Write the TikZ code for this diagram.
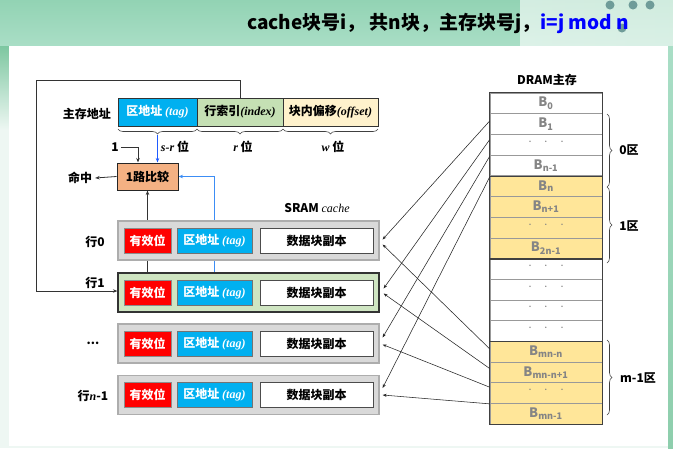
\documentclass[tikz,border=0pt]{standalone}
\usepackage{fontspec}
\setmainfont{Noto Sans CJK SC}
\newfontfamily\serifface{Liberation Serif}
\usetikzlibrary{decorations.pathreplacing,arrows.meta,calc}
\newcommand\fsz[1]{\fontsize{#1}{#1}\selectfont}
\newcommand\lat[1]{{\serifface\itshape #1}}

\definecolor{tagblue}{HTML}{00B0F0}
\definecolor{idxgreen}{HTML}{C5E0B4}
\definecolor{offyellow}{HTML}{FFF2CC}
\definecolor{cmporange}{HTML}{F4B183}
\definecolor{rowgray}{HTML}{D9D9D9}
\definecolor{rowgreen}{HTML}{CFE5C2}
\definecolor{blkyellow}{HTML}{FFE699}
\definecolor{wireblue}{HTML}{1F5BFF}
\definecolor{wireblue2}{HTML}{3C8DF5}
\definecolor{slidegreen}{HTML}{5DB989}
\definecolor{slidelight}{HTML}{A9DEC6}
\definecolor{slidepale}{HTML}{EEF7F3}
\definecolor{dotteal}{HTML}{6F9C99}

\pgfdeclarelayer{bg}
\pgfdeclarelayer{wires}
\pgfsetlayers{bg,wires,main}

\tikzset{
  lbl/.style={font=\fsz{12}\bfseries, inner sep=0pt},
  addr/.style={draw=black!80, line width=0.8pt, minimum height=28pt, inner sep=0pt, font=\fsz{12}\bfseries},
  cmpbox/.style={draw=black!85, line width=1pt, fill=cmporange, minimum width=61pt, minimum height=27pt, inner sep=0pt, font=\fsz{12}\bfseries},
  rowbox/.style={draw=black!32, fill=rowgray, line width=1.2pt, minimum width=261pt, minimum height=39pt, inner sep=0pt},
  rowsel/.style={rowbox, draw=black!80, fill=rowgreen},
  validbox/.style={fill=red, draw=black!45, line width=0.6pt, text=white, minimum width=47pt, minimum height=25pt, inner sep=0pt, font=\fsz{12}\bfseries},
  tagbox/.style={fill=tagblue, draw=black!55, line width=0.6pt, text=white, minimum width=75pt, minimum height=25pt, inner sep=0pt, font=\fsz{12}\bfseries},
  databox/.style={fill=white, draw=black!70, line width=0.8pt, minimum width=113pt, minimum height=25pt, inner sep=0pt, font=\fsz{12}\bfseries},
  cell/.style={draw=black!40, line width=0.8pt, minimum width=112pt, minimum height=20.7pt, inner sep=0pt, text=black!48, font=\fsz{13}\bfseries},
  wire/.style={draw=black!80, line width=0.8pt},
  tip/.style={-{Stealth[length=4.5pt,width=3.5pt]}},
  map/.style={draw=black!85, line width=0.55pt, -{Stealth[length=4pt,width=3pt]}},
  brc/.style={draw=black!75, line width=0.6pt, decorate, decoration={brace, amplitude=5pt}},
}
\newcommand\blkdots{{\fsz{7}\mdseries\raisebox{3pt}{·\hspace{9pt}·\hspace{9pt}·}}}

\begin{document}
\begin{tikzpicture}[x=1pt,y=-1pt]
\useasboundingbox (0,0) rectangle (673,448);

% slide background
\begin{pgfonlayer}{bg}
  \fill[slidepale] (0,0) rectangle (673,448);
  \shade[top color=slidelight!70!slidegreen, middle color=slidegreen, bottom color=slidelight] (0,0) rectangle (673,46);
  \shade[left color=slidegreen!0, right color=white!70!slidepale, opacity=0.6] (520,0) rectangle (673,46);
  \shade[top color=slidegreen!80, bottom color=slidepale] (0,46) rectangle (9,130);
  \shade[top color=slidelight, bottom color=slidegreen!70] (668,46) rectangle (673,448);
  \fill[white] (9,46) rectangle (668,446);
  \foreach \cx/\cy in {610/5, 633/5, 650/5, 622/28}
    \fill[dotteal] (\cx,\cy) circle (4.5);
\end{pgfonlayer}

% title line
\node[inner sep=0pt, font=\fsz{19}\bfseries] (title) at (438,23)
  {cache块号i，\ 共n块，主存块号j，\textcolor{blue}{i=j mod n}};

% main memory address fields
\node[addr, fill=tagblue, text=white, minimum width=79pt] (atag) at (157.5,112) {区地址 \lat{(tag)}};
\node[addr, fill=idxgreen, minimum width=86pt] (aidx) at (240,112) {行索引\lat{(index)}};
\node[addr, fill=offyellow, minimum width=95pt] (aoff) at (330.5,112) {块内偏移\lat{(offset)}};
\node[lbl] (alab) at (87,114) {主存地址};

\draw[brc] (197,129) -- (118,129);
\draw[brc] (283,129) -- (197,129);
\draw[brc] (378,129) -- (283,129);
\coordinate (tagtip) at (157.5,135);
\node[lbl] (bsr) at (175,147) {\lat{s-r} 位};
\node[lbl] (br) at (243,147) {\lat{r} 位};
\node[lbl] (bw) at (333,147) {\lat{w} 位};

% comparator
\node[cmpbox] (cmp) at (147.5,176.5) {1路比较};
\node[lbl] (one) at (115,147) {1};
\node[lbl] (hit) at (80,178) {命中};
\draw[wire, tip] (one.east) ++(2,0) -| ($(cmp.north)+(-9.5,0)$);
\draw[wireblue, line width=0.9pt, tip] (tagtip) -- (tagtip |- cmp.north);
\draw[wire, tip] (cmp.west) -- ($(hit.east)+(3,0)$);

% cache lines
\node[rowbox] (r0) at (248.5,240.5) {};
\node[rowsel] (r1) at (248.5,292.5) {};
\node[rowbox] (r2) at (248.5,343.5) {};
\node[rowbox] (r3) at (248.5,395) {};
\foreach \r in {0,1,2,3} {
  \node[validbox] (v\r) at (r\r.center -| 147.5,0) {有效位};
  \node[tagbox] (t\r) at (r\r.center -| 214.5,0) {区地址 \lat{(tag)}};
  \node[databox] (d\r) at (r\r.center -| 316.5,0) {数据块副本};
}
\node[lbl] (l0) at (95,242) {行0};
\node[lbl] (l1) at (95,283) {行1};
\node[lbl] (l2) at (93,343) {...};
\node[lbl] (l3) at (93,396) {行\lat{n}-1};
\node[lbl] (sram) at (317,208) {SRAM \lat{\fsz{12}\mdseries cache}};

% wires from line 1 up to the comparator (behind line 0)
\begin{pgfonlayer}{wires}
  \draw[wire, tip] (v1.north) -- (cmp.south -| v1.north);
  \draw[wireblue2, line width=0.9pt, tip] (t1.north) |- (cmp.east);
\end{pgfonlayer}

% index loop into line 1
\draw[wire, tip] (aidx.north) -- ++(0,-17) -| (36,291) -- (r1.west |- 0,291);

% DRAM blocks
\node[lbl] (dram) at (547,80) {DRAM主存};
\foreach \i/\txt/\fc in {
  0/B\textsubscript{0}/white, 1/B\textsubscript{1}/white, 2/\blkdots/white, 3/B\textsubscript{n-1}/white,
  4/B\textsubscript{n}/blkyellow, 5/B\textsubscript{n+1}/blkyellow, 6/\blkdots/blkyellow, 7/B\textsubscript{2n-1}/blkyellow,
  8/\blkdots/white, 9/\blkdots/white, 10/\blkdots/white, 11/\blkdots/white,
  12/B\textsubscript{mn-n}/blkyellow, 13/B\textsubscript{mn-n+1}/blkyellow, 14/\blkdots/blkyellow, 15/B\textsubscript{mn-1}/blkyellow}
  \node[cell, fill=\fc] (m\i) at (546,{93+20.7*\i+10.35}) {\raisebox{1.5pt}{\txt}};
\draw[black!75, line width=1.2pt] (m0.north west) rectangle (m15.south east);
\foreach \i in {3,7,11}
  \draw[black!75, line width=1.2pt] (m\i.south west) -- (m\i.south east);

% zone braces
\draw[brc] (607,114) -- (607,187);
\draw[brc] (607,187) -- (607,263);
\draw[brc] (607,340) -- (607,415);
\node[lbl] (z0) at (629,150) {0区};
\node[lbl] (z1) at (629,226) {1区};
\node[lbl] (z2) at (638,378) {m-1区};

% block-to-line mapping
\draw[map] ($(m1.west)+(0,-3)$) -- ($(r0.east)+(3,-1)$);
\draw[map] ($(m2.west)+(0,-5)$) -- ($(r1.east)+(4,-4)$);
\draw[map] ($(m3.west)+(0,-9)$) -- ($(r2.east)+(3,-6)$);
\draw[map] ($(m4.west)+(0,-9)$) -- ($(r3.east)+(3,-7)$);
\draw[map] ($(m12.west)+(0,-3)$) -- ($(r0.east)+(3,4)$);
\draw[map] ($(m13.west)+(0,-4)$) -- ($(r1.east)+(4,1)$);
\draw[map] ($(m14.west)+(0,-6)$) -- ($(r2.east)+(3,1)$);
\draw[map] ($(m15.west)+(0,-10)$) -- ($(r3.east)+(3,0)$);
\end{tikzpicture}
\end{document}
